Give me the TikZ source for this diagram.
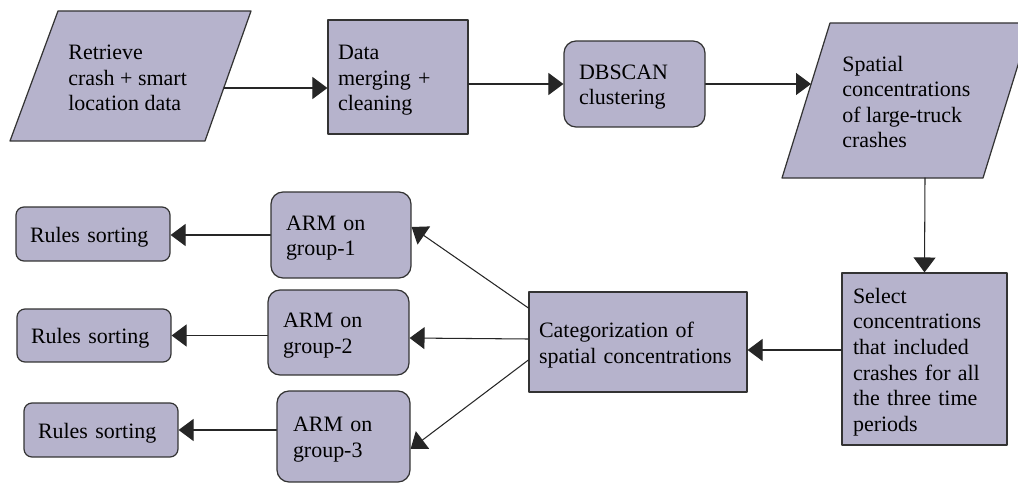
\documentclass[tikz,border=0pt]{standalone}
\usepackage{fontspec}
\setmainfont{Liberation Serif}
\usetikzlibrary{arrows.meta}
\definecolor{boxfill}{RGB}{182,179,204}
\begin{document}
\begin{tikzpicture}[x=0.02cm,y=-0.02cm,line join=round,line cap=round]
	\tikzset{txt/.style={font=\fontsize{12.5}{14.6}\selectfont,align=left},
		box/.style={txt,draw=black!80,line width=0.7pt,fill=boxfill,inner ysep=0pt,
			execute at begin node={\rule{0pt}{12pt}}},
		rbox/.style={box,rounded corners=0.24cm},
		flow/.style={-{Triangle[length=8.5pt,width=12.5pt]},draw=black!85,line width=0.6pt}}
	\clip (0,0) rectangle (1018,483);
	% input and output data
	\draw[draw=black!80,line width=0.7pt,fill=boxfill] (58,11)--(251,11)--(205,141)--(10,141)--cycle;
	\node[txt,anchor=west,inner sep=0pt] (retrieve) at (68,78) {Retrieve\\crash + smart\\location data};
	\coordinate (retrieveout) at (224,88);
	\draw[draw=black!80,line width=0.7pt,fill=boxfill] (830,23)--(1031,23)--(983,178)--(782,178)--cycle;
	\node[txt,anchor=west,inner sep=0pt] (spatial) at (842,102) {Spatial\\concentrations\\of large-truck\\crashes};
	\coordinate (spatialin) at (811,84);
	\coordinate (spatialout) at (925,178);
	% processing steps
	\node[box,minimum height=2.28cm,text width=2.4cm,inner xsep=0.2cm] (merge) at (398,77) {Data\\merging +\\cleaning};
	\node[rbox,minimum height=1.72cm,text width=2.22cm,inner xsep=0.3cm] (dbscan) at (634.5,84) {DBSCAN\\clustering};
	\node[box,minimum height=3.44cm,text width=2.86cm,inner xsep=0.22cm] (select) at (924.5,359) {Select\\concentrations\\that included\\crashes for all\\the three time\\periods};
	\node[box,minimum height=2cm,text width=3.96cm,inner xsep=0.2cm] (categ) at (638,342) {Categorization of\\spatial concentrations};
	\node[rbox,minimum height=1.72cm,text width=2.2cm,inner xsep=0.3cm] (arm1) at (341,235) {ARM on\\group-1};
	\node[rbox,minimum height=1.70cm,text width=2.22cm,inner xsep=0.3cm] (arm2) at (338.5,332.5) {ARM on\\group-2};
	\node[rbox,minimum height=1.82cm,text width=2.02cm,inner xsep=0.32cm] (arm3) at (343.5,436.5) {ARM on\\group-3};
	\node[rbox,rounded corners=0.16cm,minimum height=1.08cm,text width=2.52cm,inner xsep=0.28cm] (rules1) at (93,234) {Rules sorting};
	\node[rbox,rounded corners=0.16cm,minimum height=1.06cm,text width=2.52cm,inner xsep=0.28cm] (rules2) at (94,335.5) {Rules sorting};
	\node[rbox,rounded corners=0.16cm,minimum height=1.08cm,text width=2.52cm,inner xsep=0.28cm] (rules3) at (101,430) {Rules sorting};
	% connectors
	\draw[flow] (retrieveout) -- (retrieveout -| merge.west);
	\draw[flow] (merge.east |- dbscan.west) -- (dbscan.west);
	\draw[flow] (dbscan.east) -- (spatialin);
	\draw[flow] (spatialout) -- (select.north);
	\draw[flow] ([yshift=0.18cm]select.west) -- ([yshift=0.18cm]select.west -| categ.east);
	\draw[flow] ([yshift=0.68cm]categ.west) -- ([yshift=0.16cm]arm1.east);
	\draw[flow] ([yshift=0.06cm]categ.west) -- ([yshift=-0.11cm]arm2.east);
	\draw[flow] ([yshift=-0.36cm]categ.west) -- ([yshift=-0.25cm]arm3.east);
	\draw[flow] (arm1.west) -- (arm1.west -| rules1.east);
	\draw[flow] (rules2.east -| arm2.west) -- (rules2.east);
	\draw[flow] (rules3.east -| arm3.west) -- (rules3.east);
\end{tikzpicture}
\end{document}
